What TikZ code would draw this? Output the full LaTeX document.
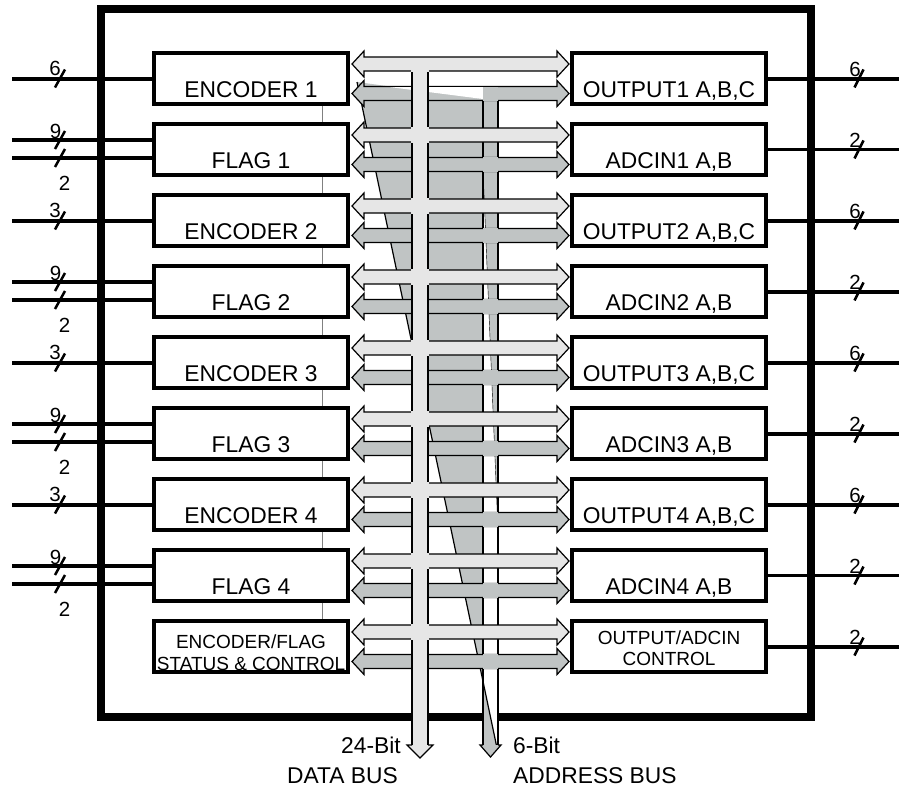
\documentclass[tikz,border=0pt]{standalone}
\usepackage{fontspec}
\setmainfont{Liberation Sans}

\definecolor{databus}{RGB}{230,230,230}
\definecolor{addrbus}{RGB}{192,196,196}

\tikzset{
  blk/.style={draw, fill=white, line width=4pt, minimum width=194pt, minimum height=51pt,
    inner sep=0pt, anchor=north west, text height=37pt, text depth=0pt,
    font=\fontsize{22.8}{26}\selectfont},
  blktext/.style={inner sep=0pt, align=center, font=\fontsize{19}{21.5}\selectfont},
  sig/.style={line width=4pt},
  sigthin/.style={line width=3pt},
  tick/.style={line width=2.5pt},
  num/.style={inner sep=0pt, anchor=base, font=\fontsize{20.5}{22}\selectfont},
  buslbl/.style={inner sep=0pt, font=\fontsize{22.8}{26}\selectfont},
  busline/.style={line width=1.2pt},
}

\newcommand{\hbus}[2]{%
  \filldraw[fill=#2, busline] (352,#1) -- ++(12,-13) -- ++(0,6) -- (557,#1-7) -- ++(0,-6)
    -- (569,#1) -- ++(-12,13) -- ++(0,-6) -- (364,#1+7) -- ++(0,6) -- cycle;}

\begin{document}
\begin{tikzpicture}[x=1pt,y=-1pt]
    \useasboundingbox (0,0) rectangle (899,790);
    \draw[line width=8pt] (101,9) rectangle (811,717);
    \draw[gray, line width=1pt] (322,106) -- (322,619);

    % address bus funnel
    \fill[white] (483,100) rectangle (498,745);
    \fill[addrbus] (357,82) -- (483,99) -- (483,681) -- cycle;
    \fill[addrbus] (483,99) -- (498,99) -- (498,530) -- (483,170) -- cycle;
    \fill[addrbus] (483,681) -- (497,748) -- (483,745) -- cycle;
    \draw[busline] (357,82) -- (497,748);
    \draw[thin] (483,170) -- (498,530);
    \filldraw[fill=addrbus, busline] (483,745) -- (480,745) -- (490.5,757) -- (501,745) -- (498,745);
    \draw[busline] (483,100) -- (483,745) (498,100) -- (498,745);

    \foreach \i in {0,...,8} {
      \pgfmathsetmacro\cy{93.5+71*\i}
      \hbus{\cy}{addrbus}
    }
    \fill[white] (390,87.1) -- (483,87.1) -- (483,99) -- cycle;
    \fill[addrbus] (483,87.1) rectangle (498,101.2);
    \foreach \i in {1,...,8} {
      \pgfmathsetmacro\cy{93.5+71*\i}
      \fill[addrbus] (483,\cy-7.7) rectangle (498,\cy+7.7);
    }

    % data bus
    \foreach \i in {0,...,8} {
      \pgfmathsetmacro\cy{64+71*\i}
      \hbus{\cy}{databus}
    }
    \fill[databus] (412,71) rectangle (428,745);
    \filldraw[fill=databus, busline] (412,745) -- (407,745) -- (420,758) -- (433,745) -- (428,745);
    \draw[busline] (412,71) -- (412,745) (428,71) -- (428,745);
    \fill[databus] (411.4,57.6) rectangle (428.6,71.7);
    \foreach \i in {1,...,8} {
      \pgfmathsetmacro\cy{64+71*\i}
      \fill[databus] (411.4,\cy-7.7) rectangle (428.6,\cy+7.7);
    }

    \node[blk] (enc1) at (152,51) {ENCODER 1};
    \node[blk] (flg1) at (152,122) {FLAG 1};
    \node[blk] (enc2) at (152,193) {ENCODER 2};
    \node[blk] (flg2) at (152,264) {FLAG 2};
    \node[blk] (enc3) at (152,335) {ENCODER 3};
    \node[blk] (flg3) at (152,406) {FLAG 3};
    \node[blk] (enc4) at (152,477) {ENCODER 4};
    \node[blk] (flg4) at (152,548) {FLAG 4};
    \node[blk] (efctl) at (152,619) {};
    \node[blktext] (efctl-t) at ([yshift=-6pt]efctl.center) {ENCODER/FLAG\\STATUS \& CONTROL};

    \node[blk] (out1) at (570,51) {OUTPUT1 A,B,C};
    \node[blk] (adc1) at (570,122) {ADCIN1 A,B};
    \node[blk] (out2) at (570,193) {OUTPUT2 A,B,C};
    \node[blk] (adc2) at (570,264) {ADCIN2 A,B};
    \node[blk] (out3) at (570,335) {OUTPUT3 A,B,C};
    \node[blk] (adc3) at (570,406) {ADCIN3 A,B};
    \node[blk] (out4) at (570,477) {OUTPUT4 A,B,C};
    \node[blk] (adc4) at (570,548) {ADCIN4 A,B};
    \node[blk] (oactl) at (570,619) {};
    \node[blktext] (oactl-t) at ([yshift=-1.5pt]oactl.center) {OUTPUT/ADCIN\\CONTROL};

    \foreach \b/\n in {enc1/6,enc2/3,enc3/3,enc4/3} {
      \coordinate (\b-i) at (12,0 |- \b.west);
      \coordinate (\b-k) at (60,0 |- \b.west);
      \draw[sig] (\b-i) -- (\b.west);
      \draw[tick] (\b-k) ++(-5,9) -- ++(10,-18);
      \node[num] (\b-n) at ([shift={(-5,-3)}]\b-k) {\n};
    }
    \foreach \b in {flg1,flg2,flg3,flg4} {
      \coordinate (\b-a) at ([shift={(0,18)}]\b.north west);
      \coordinate (\b-b) at ([shift={(0,36)}]\b.north west);
      \coordinate (\b-ia) at (12,0 |- \b-a);
      \coordinate (\b-ib) at (12,0 |- \b-b);
      \coordinate (\b-ka) at (60,0 |- \b-a);
      \coordinate (\b-kb) at (60,0 |- \b-b);
      \draw[sig] (\b-ia) -- (\b-a);
      \draw[sig] (\b-ib) -- (\b-b);
      \draw[tick] (\b-ka) ++(-5,9) -- ++(10,-18);
      \draw[tick] (\b-kb) ++(-5,9) -- ++(10,-18);
      \node[num] (\b-na) at ([shift={(-4.5,-2)}]\b-ka) {9};
      \node[num] (\b-nb) at ([shift={(4.5,32.5)}]\b-kb) {2};
    }
    \foreach \b/\n/\s in {out1/6/sig,adc1/2/sigthin,out2/6/sig,adc2/2/sig,out3/6/sig,adc3/2/sig,out4/6/sig,adc4/2/sigthin,oactl/2/sig} {
      \coordinate (\b-o) at (899,0 |- \b.east);
      \coordinate (\b-k) at (859,0 |- \b.east);
      \draw[\s] (\b.east) -- (\b-o);
      \draw[tick] (\b-k) ++(-4.5,9) -- ++(9,-18);
      \node[num] (\b-n) at ([shift={(-4,-2)}]\b-k) {\n};
    }

    \node[buslbl, anchor=base east] (dbits) at (401,753) {24-Bit};
    \node[buslbl, anchor=base] (dname) at (342.5,783) {DATA BUS};
    \node[buslbl, anchor=base west] (abits) at (513,753) {6-Bit};
    \node[buslbl, anchor=base west] (aname) at (513,783) {ADDRESS BUS};
\end{tikzpicture}
\end{document}
